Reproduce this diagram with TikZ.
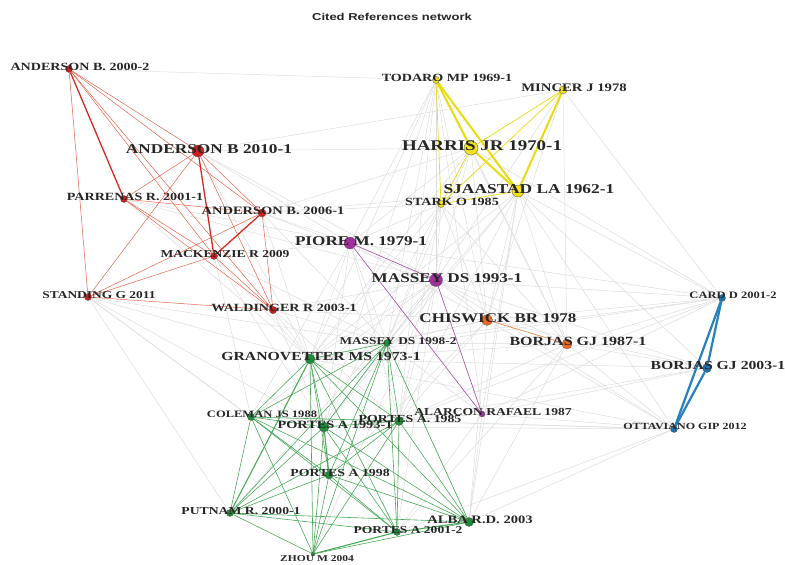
\documentclass[tikz,border=0pt]{standalone}
\usepackage{fontspec}
\newfontfamily\lblfont[FakeStretch=1.28]{Liberation Serif}
\newfontfamily\ttlfont[FakeStretch=1.3]{Liberation Sans}
\usetikzlibrary{backgrounds}

\definecolor{rednode}{HTML}{D01C1C}
\definecolor{rededge}{HTML}{E8644C}
\definecolor{redthick}{HTML}{D42A22}
\definecolor{yelnode}{HTML}{F2E21A}
\definecolor{yeledge}{HTML}{E8DC10}
\definecolor{purnode}{HTML}{A0309C}
\definecolor{puredge}{HTML}{A85AA8}
\definecolor{orgnode}{HTML}{F06A1E}
\definecolor{orgedge}{HTML}{EA9060}
\definecolor{blunode}{HTML}{1F6FA8}
\definecolor{bluedge}{HTML}{2580BC}
\definecolor{grnnode}{HTML}{1E8C3A}
\definecolor{grnedge}{HTML}{4AA85A}
\definecolor{gryedge}{HTML}{DDDDDD}

\tikzset{
  dot/.style={circle,draw=black!65,line width=0.35pt,inner sep=0pt,minimum size=#1},
  lab/.style={font=\lblfont\bfseries\fontsize{#1}{#1}\selectfont,text=black!85,
    inner sep=0pt,anchor=base,xshift=11pt,yshift=2.3pt},
  grayline/.style={gryedge,line width=0.5pt},
  redline/.style={rededge,line width=0.5pt},
  yelline/.style={yeledge,line width=0.7pt},
  grnline/.style={grnedge,line width=0.6pt}
}

\begin{document}
\begin{tikzpicture}[x=1pt,y=-1pt]
\useasboundingbox (0,0) rectangle (785,565);

\node[font=\ttlfont\bfseries\fontsize{10}{10}\selectfont,text=black!85] (title) at (392,17) {Cited References network};

% red cluster
\node[dot=7pt,fill=rednode,label={[lab=11]center:ANDERSON B. 2000-2}] (a00) at (69,69) {};
\node[dot=12pt,fill=rednode,label={[lab=13.5]center:ANDERSON B 2010-1}] (a10) at (198,151) {};
\node[dot=7pt,fill=rednode,label={[lab=11]center:PARRENAS R. 2001-1}] (par) at (124,199) {};
\node[dot=8pt,fill=rednode,label={[lab=11.3]center:ANDERSON B. 2006-1}] (a06) at (262,213) {};
\node[dot=7pt,fill=rednode,label={[lab=10.6]center:MACKENZIE R 2009}] (mac) at (214,256) {};
\node[dot=7pt,fill=rednode,label={[lab=10.5]center:STANDING G 2011}] (sta) at (88,297) {};
\node[dot=7.5pt,fill=rednode,label={[lab=11]center:WALDINGER R 2003-1}] (wal) at (273,310) {};

% yellow cluster
\node[dot=7pt,fill=yelnode,label={[lab=11]center:TODARO MP 1969-1}] (tod) at (436,80) {};
\node[dot=8pt,fill=yelnode,label={[lab=11.5]center:MINCER J 1978}] (min) at (563,90) {};
\node[dot=14pt,fill=yelnode,label={[lab=14.8]center:HARRIS JR 1970-1}] (har) at (471,148) {};
\node[dot=12pt,fill=yelnode,label={[lab=13.6]center:SJAASTAD LA 1962-1}] (sja) at (518,191) {};
\node[dot=7pt,fill=yelnode,label={[lab=11]center:STARK O 1985}] (stk) at (441,204) {};

% purple and orange
\node[dot=12pt,fill=purnode,label={[lab=13.4]center:PIORE M. 1979-1}] (pio) at (350,243) {};
\node[dot=13pt,fill=purnode,label={[lab=13.4]center:MASSEY DS 1993-1}] (m93) at (436,280) {};
\node[dot=6pt,fill=purnode,label={[lab=10.6]center:ALARCON RAFAEL 1987}] (ala) at (482,414) {};
\node[dot=11pt,fill=orgnode,label={[lab=13.3]center:CHISWICK BR 1978}] (chi) at (487,320) {};
\node[dot=10pt,fill=orgnode,label={[lab=12.5]center:BORJAS GJ 1987-1}] (b87) at (567,344) {};

% blue cluster
\node[dot=7pt,fill=blunode,label={[lab=9.8]center:CARD D 2001-2}] (card) at (722,298) {};
\node[dot=9pt,fill=blunode,label={[lab=12.3]center:BORJAS GJ 2003-1}] (b03) at (707,368) {};
\node[dot=7pt,fill=blunode,label={[lab=9.4]center:OTTAVIANO GIP 2012}] (ott) at (674,429) {};

% green cluster
\node[dot=10pt,fill=grnnode,label={[lab=12.3]center:GRANOVETTER MS 1973-1}] (gra) at (310,359) {};
\node[dot=7pt,fill=grnnode,label={[lab=10.4]center:MASSEY DS 1998-2}] (m98) at (387,343) {};
\node[dot=7pt,fill=grnnode,label={[lab=9.8]center:COLEMAN JS 1988}] (col) at (251,417) {};
\node[dot=10pt,fill=grnnode,label={[lab=11.2]center:PORTES A 1993-1}] (p93) at (324,427) {};
\node[dot=9pt,fill=grnnode,label={[lab=10.8]center:PORTES A. 1985}] (p85) at (399,421) {};
\node[dot=8pt,fill=grnnode,label={[lab=10.8]center:PORTES A 1998}] (p98) at (329,475) {};
\node[dot=7pt,fill=grnnode,label={[lab=10.7]center:PUTNAM R. 2000-1}] (put) at (230,513) {};
\node[dot=7pt,fill=grnnode,label={[lab=10.6]center:PORTES A 2001-2}] (p01) at (397,532) {};
\node[dot=9pt,fill=grnnode,label={[lab=11.4]center:ALBA R.D. 2003}] (alb) at (469,522) {};
\node[dot=4pt,fill=grnnode,label={[lab=9,xshift=-7pt,yshift=-7pt]center:ZHOU M 2004}] (zho) at (313,554) {};

\begin{pgfonlayer}{background}
% links between clusters
\foreach \a/\b in {a00/tod,a10/min,a10/har,a10/pio,a10/m93,a10/gra,a06/pio,a06/har,a06/sja,a06/stk,
  a06/m93,a06/gra,a06/m98,mac/gra,mac/p93,mac/m98,mac/pio,mac/col,wal/gra,wal/p85,wal/m93,wal/m98,
  wal/chi,wal/p93,sta/gra,sta/col,sta/p93,sta/put,sta/p98,sta/m98,par/gra,par/pio,par/m93,
  tod/gra,tod/m98,tod/p85,tod/p93,tod/pio,tod/m93,tod/chi,tod/ala,tod/b87,har/m93,har/pio,har/chi,
  har/card,har/b87,har/gra,har/m98,sja/card,sja/ott,sja/b03,sja/chi,sja/b87,sja/m98,sja/p85,sja/alb,
  sja/ala,sja/gra,sja/p93,stk/m93,stk/pio,stk/chi,stk/b87,stk/gra,stk/p93,stk/m98,stk/p85,
  min/b87,min/chi,min/card,min/m93,pio/gra,pio/m98,pio/p93,pio/col,pio/p85,pio/chi,
  m93/m98,m93/gra,m93/b87,m93/chi,m93/p85,m93/p93,chi/card,chi/ott,chi/b03,chi/gra,chi/p85,chi/alb,
  chi/m98,b87/card,b87/ott,b87/b03,b87/alb,b87/p01,b87/m98,b87/gra,b87/p85,card/m93,card/p85,
  card/gra,card/ala,card/m98,card/pio,ott/ala,ott/p01,ott/alb,ott/p85,ott/col,ott/p93,ott/gra,
  ott/m93,b03/m93,b03/p85,b03/ala,b03/gra,ala/alb,ala/p85,ala/p01,ala/m98,ala/p93,col/m93,
  put/m93,p98/chi,alb/m98,p01/m93,zho/m93}
  \draw[grayline] (\a) -- (\b);

% red
\foreach \a/\b in {a00/a10,a00/a06,a00/mac,a00/sta,a00/wal,a10/par,a10/sta,a10/a06,a10/wal,
  par/a06,par/mac,par/wal,a06/sta,a06/wal,mac/sta,mac/wal,sta/wal}
  \draw[redline] (\a) -- (\b);
\foreach \a/\b in {a00/par,a10/mac,a06/mac}
  \draw[redthick,line width=1.3pt] (\a) -- (\b);

% yellow
\foreach \a/\b in {tod/stk,min/har,min/stk,stk/sja,har/stk}
  \draw[yelline] (\a) -- (\b);
\foreach \a/\b in {tod/sja,tod/har,har/sja,min/sja}
  \draw[yelline,line width=2pt] (\a) -- (\b);

% purple, orange
\draw[puredge,line width=0.7pt] (pio) -- (m93);
\draw[puredge,line width=0.7pt] (pio) -- (ala);
\draw[puredge,line width=0.7pt] (m93) -- (ala);
\draw[orgedge,line width=0.8pt] (chi) -- (b87);

% blue
\draw[bluedge,line width=2.2pt] (card) -- (ott);
\draw[bluedge,line width=2.2pt] (card) -- (b03);
\draw[bluedge,line width=2.2pt] (b03) -- (ott);

% green
\foreach \a/\b in {gra/m98,gra/col,gra/p93,gra/p85,gra/p98,gra/p01,gra/alb,gra/zho,
  m98/col,m98/p93,m98/p85,m98/p98,m98/put,m98/p01,m98/alb,m98/zho,col/p93,col/p85,col/p98,col/put,
  col/p01,col/alb,col/zho,p93/p85,p93/put,p93/p01,p93/alb,p93/zho,p85/p98,p85/put,p85/p01,
  p85/alb,p85/zho,p98/put,p98/p01,p98/alb,p98/zho,put/p01,put/alb,put/zho,alb/zho}
  \draw[grnline] (\a) -- (\b);
\foreach \a/\b in {gra/put,p93/p98,p01/alb,p01/zho}
  \draw[grnline,line width=1.1pt] (\a) -- (\b);
\end{pgfonlayer}
\end{tikzpicture}
\end{document}
